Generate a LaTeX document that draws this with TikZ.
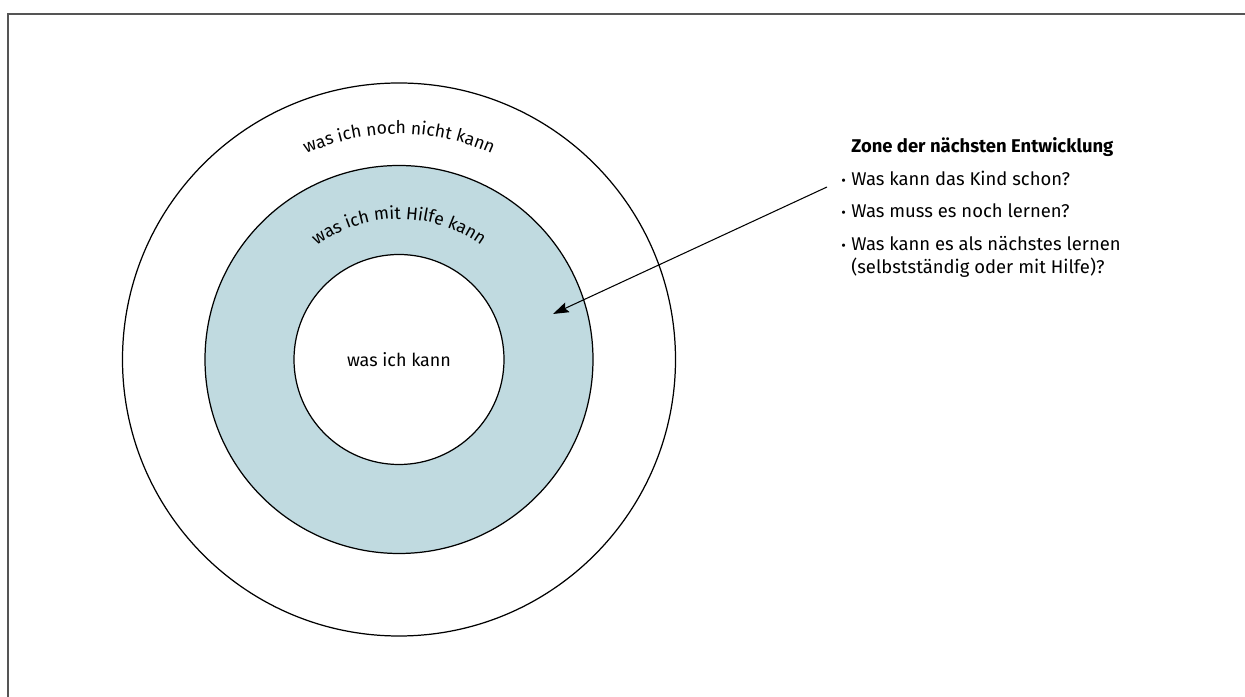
\documentclass[tikz,border=0pt]{standalone}
\usepackage{fontspec}
\setmainfont{Fira Sans}
\usepackage{tikz}
\usetikzlibrary{positioning,calc,arrows.meta,decorations.text}

\definecolor{zonefill}{RGB}{192,218,224}
\definecolor{framegray}{RGB}{85,85,85}
\newcommand{\bul}{\makebox[0.2cm][l]{\raisebox{0.1ex}{\footnotesize\textbullet}}}

\begin{document}
\begin{tikzpicture}[>={Stealth[length=9pt,width=6pt,inset=1.5pt]},
  ring/.style={circle, draw, line width=0.7pt, inner sep=0pt},
  txt/.style={font=\fontsize{10.2}{12}\selectfont, inner sep=0pt},
  heading/.style={txt, font=\fontsize{10.5}{12}\selectfont\bfseries, anchor=base west},
  qline/.style={txt, font=\fontsize{10.5}{12}\selectfont, anchor=base west}]
  \useasboundingbox (0,0) rectangle (24.9,13.94);
  % frame
  \draw[framegray, line width=1.1pt] (0.16,0) -- (0.16,13.66) -- (24.9,13.66);

  % rings
  \coordinate (c) at (7.98,6.75);
  \node[ring, minimum size=11.06cm] (outer) at (c) {};
  \node[ring, fill=zonefill, minimum size=7.76cm] (zone) at (c) {};
  \node[ring, txt, fill=white, minimum size=4.2cm] (inner) at (c) {was ich kann};

  % curved labels
  \path[decorate, decoration={text along path, text align=center,
    text={|\fontsize{10}{12}\selectfont|was ich noch nicht kann}}]
    ($(c)+(150:4.51)$) arc[start angle=150, end angle=30, radius=4.51];
  \path[decorate, decoration={text along path, text align=center,
    text={|\fontsize{10}{12}\selectfont|was ich mit Hilfe kann}}]
    ($(c)+(145:2.81)$) arc[start angle=145, end angle=35, radius=2.81];

  % text block
  \node[heading] (head) at (17.02,10.88) {Zone der nächsten Entwicklung};
  \node[qline] (q1) at (16.82,10.22) {\bul Was kann das Kind schon?};
  \node[qline] (q2) at (16.82,9.58) {\bul Was muss es noch lernen?};
  \node[qline] (q3) at (16.82,8.92) {\bul Was kann es als nächstes lernen};
  \node[qline] (q3b) at (17.02,8.46) {(selbstständig oder mit Hilfe)?};

  % pointer
  \coordinate (start) at (16.54,10.2);
  \coordinate (tip) at (11.06,7.66);
  \draw[->, line width=0.6pt] (start) -- (tip);
\end{tikzpicture}
\end{document}
